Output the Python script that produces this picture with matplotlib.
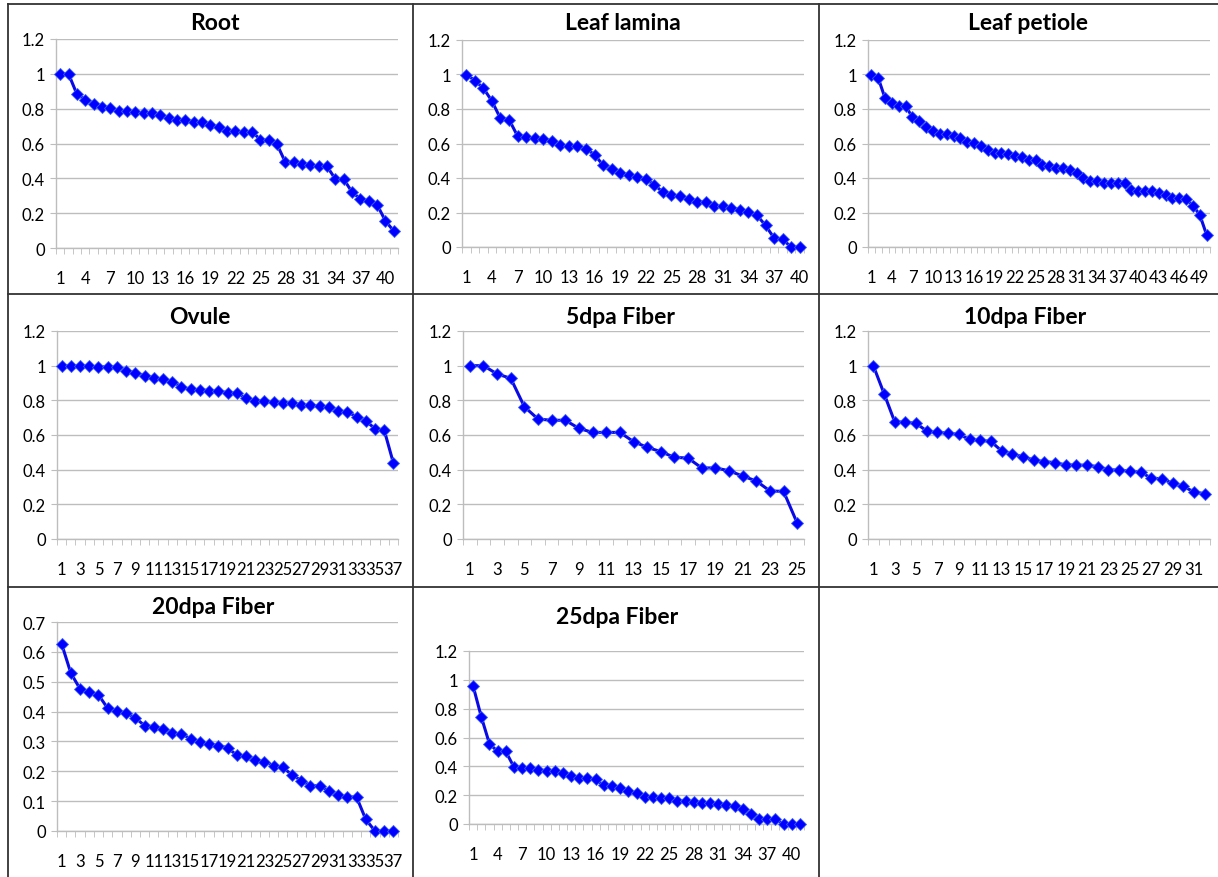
import numpy as np
import matplotlib
matplotlib.use("Agg")
import matplotlib.pyplot as plt
from matplotlib.lines import Line2D
from matplotlib.ticker import MultipleLocator, FixedLocator

plt.rcParams['font.family'] = ['Lato', 'DejaVu Sans']

titles = ["Root", "Leaf lamina", "Leaf petiole", "Ovule", "5dpa Fiber",
          "10dpa Fiber", "20dpa Fiber", "25dpa Fiber"]

root = [1.0, 1.0, 0.884, 0.851, 0.828, 0.809, 0.803, 0.786, 0.786, 0.779,
        0.773, 0.773, 0.763, 0.744, 0.737, 0.737, 0.725, 0.723, 0.708, 0.693,
        0.67, 0.67, 0.668, 0.668, 0.622, 0.618, 0.595, 0.492, 0.492, 0.485,
        0.477, 0.469, 0.468, 0.395, 0.395, 0.32, 0.282, 0.269, 0.248, 0.155,
        0.097]
leaf_lamina = [1.0, 0.965, 0.921, 0.846, 0.745, 0.739, 0.643, 0.637, 0.631, 0.628,
               0.616, 0.591, 0.585, 0.585, 0.568, 0.536, 0.474, 0.455, 0.43, 0.42,
               0.405, 0.393, 0.361, 0.317, 0.301, 0.297, 0.28, 0.263, 0.263, 0.236,
               0.236, 0.228, 0.217, 0.205, 0.184, 0.125, 0.052, 0.044, 0.0, 0.0]
leaf_petiole = [1.0, 0.979, 0.862, 0.835, 0.817, 0.817, 0.752, 0.731, 0.694, 0.673,
                0.654, 0.656, 0.644, 0.629, 0.608, 0.604, 0.583, 0.563, 0.546, 0.546,
                0.538, 0.529, 0.523, 0.504, 0.504, 0.473, 0.467, 0.458, 0.458, 0.448,
                0.429, 0.398, 0.385, 0.385, 0.373, 0.373, 0.369, 0.369, 0.331, 0.323,
                0.323, 0.323, 0.312, 0.3, 0.283, 0.283, 0.279, 0.24, 0.187, 0.071]
ovule = [1.0, 1.0, 1.0, 0.996, 0.994, 0.992, 0.992, 0.969, 0.96, 0.942,
         0.931, 0.921, 0.908, 0.879, 0.863, 0.862, 0.856, 0.854, 0.844, 0.842,
         0.813, 0.798, 0.798, 0.79, 0.787, 0.785, 0.771, 0.771, 0.767, 0.762,
         0.74, 0.733, 0.706, 0.681, 0.637, 0.629, 0.438]
fiber_5dpa = [1.0, 1.0, 0.952, 0.927, 0.763, 0.692, 0.685, 0.685, 0.638, 0.615,
              0.615, 0.615, 0.562, 0.529, 0.504, 0.471, 0.467, 0.41, 0.41, 0.394,
              0.363, 0.335, 0.277, 0.275, 0.092]
fiber_10dpa = [1.0, 0.839, 0.676, 0.674, 0.667, 0.623, 0.615, 0.611, 0.603, 0.575,
               0.569, 0.563, 0.508, 0.49, 0.475, 0.456, 0.446, 0.441, 0.427, 0.427,
               0.425, 0.418, 0.4, 0.397, 0.391, 0.385, 0.352, 0.347, 0.322, 0.303,
               0.272, 0.261]
fiber_20dpa = [0.627, 0.529, 0.476, 0.467, 0.456, 0.411, 0.401, 0.395, 0.379, 0.353,
               0.349, 0.343, 0.328, 0.325, 0.309, 0.297, 0.29, 0.286, 0.279, 0.254,
               0.251, 0.237, 0.232, 0.219, 0.213, 0.188, 0.169, 0.152, 0.151, 0.135,
               0.119, 0.114, 0.114, 0.039, 0.0, 0.0, 0.0]
fiber_25dpa = [0.958, 0.744, 0.557, 0.503, 0.503, 0.395, 0.39, 0.39, 0.376, 0.37,
               0.367, 0.351, 0.33, 0.316, 0.316, 0.309, 0.268, 0.263, 0.249, 0.226,
               0.212, 0.189, 0.187, 0.182, 0.178, 0.162, 0.162, 0.152, 0.145, 0.145,
               0.139, 0.134, 0.122, 0.102, 0.072, 0.037, 0.032, 0.032, 0.0, 0.0, 0.0]

series = [root, leaf_lamina, leaf_petiole, ovule, fiber_5dpa,
          fiber_10dpa, fiber_20dpa, fiber_25dpa]
label_step = [3, 3, 3, 2, 2, 2, 2, 3]
y_max = [1.2, 1.2, 1.2, 1.2, 1.2, 1.2, 0.7, 1.2]
y_step = [0.2, 0.2, 0.2, 0.2, 0.2, 0.2, 0.1, 0.2]

W, H = 1218, 878
# plot areas in pixels: left, top, right, bottom
boxes = [(56, 40, 398, 249), (462, 41, 804, 248), (868, 41, 1210, 248),
         (57, 332, 398, 540), (463, 332, 804, 540), (868, 332, 1210, 540),
         (57, 623, 398, 832), (469, 652, 804, 825)]
title_pos = [(215, 24), (623, 24), (1028, 24), (200, 317), (620, 317),
             (1025, 317), (213, 608), (617, 617)]

fig = plt.figure(figsize=(W / 100, H / 100), dpi=100)

# cell borders
def fline(x0, y0, x1, y1):
    fig.add_artist(Line2D([x0 / W, x1 / W], [1 - y0 / H, 1 - y1 / H],
                          color="#333333", lw=1.3))

fline(8, 5, 1218, 5)
fline(8, 5, 8, 878)
fline(8, 295, 1218, 295)
fline(8, 588, 1218, 588)
fline(413, 5, 413, 878)
fline(819, 5, 819, 878)

grid_c = "#bdbdbd"
for i, vals in enumerate(series):
    l, t, r, b = boxes[i]
    ax = fig.add_axes([l / W, 1 - b / H, (r - l) / W, (b - t) / H])
    n = len(vals)
    x = np.arange(1, n + 1)
    ax.plot(x, vals, color="#0a0ae6", lw=2.2, marker="D", ms=6.5,
            mfc="#0000ff", mec="#3a5cff", mew=0.6, zorder=3, clip_on=False)
    ax.set_xlim(0.5, n + 0.5)
    ax.set_ylim(0, y_max[i])
    ax.yaxis.set_major_locator(MultipleLocator(y_step[i]))
    ax.yaxis.set_major_formatter(plt.FuncFormatter(lambda v, p: f"{v:g}" if abs(v) > 1e-9 else "0"))
    ax.grid(axis="y", color=grid_c, lw=1.0)
    ax.set_axisbelow(True)
    ax.xaxis.set_major_locator(FixedLocator(np.arange(1, n + 1, label_step[i])))
    ax.xaxis.set_minor_locator(FixedLocator(np.arange(0.5, n + 1, 1.0)))
    ax.tick_params(axis="x", which="major", length=0, pad=16, labelsize=12)
    ax.tick_params(axis="x", which="minor", length=4, color=grid_c, direction="out")
    ax.tick_params(axis="y", length=4, color=grid_c, pad=4, labelsize=12)
    for s in ("top", "right"):
        ax.spines[s].set_visible(False)
    for s in ("left", "bottom"):
        ax.spines[s].set_color(grid_c)
        ax.spines[s].set_linewidth(1.0)
    tx, ty = title_pos[i]
    fig.text(tx / W, 1 - ty / H, titles[i], ha="center", va="center",
             fontsize=16.5, fontweight="bold")

fig.savefig("out.png", dpi=100)
